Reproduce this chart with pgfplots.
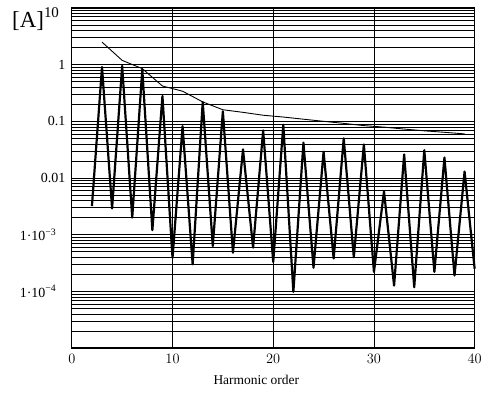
\documentclass[border=0pt]{standalone}
\usepackage{fontspec}
\setmainfont{Liberation Serif}
\usepackage{pgfplots}
\pgfplotsset{compat=1.18}
\begin{document}
\begin{tikzpicture}
\begin{axis}[
  scale only axis, width=404pt, height=341pt,
  ymode=log, ymin=1e-5, ymax=10, xmin=0, xmax=40,
  xtick={0,10,20,30,40},
  ytick={1e-5,1e-4,1e-3,0.01,0.1,1,10},
  yticklabels={,{1·10\textsuperscript{−4}\hspace*{9pt}},{1·10\textsuperscript{−3}\hspace*{9pt}},0.01,0.1,1,},
  minor ytick={2e-5,3e-5,4e-5,5e-5,6e-5,7e-5,8e-5,9e-5,
               2e-4,3e-4,4e-4,5e-4,6e-4,7e-4,8e-4,9e-4,
               2e-3,3e-3,4e-3,5e-3,6e-3,7e-3,8e-3,9e-3,
               0.02,0.03,0.04,0.05,0.06,0.07,0.08,0.09,
               0.2,0.3,0.4,0.5,0.6,0.7,0.8,0.9,
               2,3,4,5,6,7,8,9},
  xmajorgrids, ymajorgrids, yminorgrids,
  major grid style={black, line width=0.7pt},
  minor grid style={black, line width=0.6pt},
  tick style={draw=none},
  axis line style={black, line width=1.3pt},
  ticklabel style={font=\fontsize{14}{16}\selectfont},
  xticklabel style={yshift=-3pt},
  yticklabel style={xshift=-3pt},
  xlabel={Harmonic order},
  xlabel style={font=\fontsize{13.5}{15}\selectfont, at={(axis description cs:0.458,0)}, anchor=north, yshift=-24pt},
  clip=false,
]
\addplot[black, line width=2.2pt, line join=round] coordinates {
(2,0.0032) (3,0.91) (4,0.0029) (5,0.95) (6,0.0020) (7,0.82) (8,0.0012) (9,0.28)
(10,3.9e-4) (11,0.082) (12,3.0e-4) (13,0.22) (14,6.3e-4) (15,0.15) (16,4.8e-4)
(17,0.032) (18,5.9e-4) (19,0.069) (20,3.3e-4) (21,0.087) (22,9.8e-5) (23,0.042)
(24,2.6e-4) (25,0.029) (26,3.8e-4) (27,0.05) (28,4.0e-4) (29,0.039) (30,2.2e-4)
(31,0.0058) (32,1.26e-4) (33,0.026) (34,1.18e-4) (35,0.031) (36,2.2e-4) (37,0.023)
(38,1.9e-4) (39,0.013) (40,2.5e-4)
};
\addplot[black, line width=0.9pt] coordinates {
(3,2.5) (5,1.19) (7,0.85) (9,0.42) (11,0.34) (13,0.22) (15,0.16) (17,0.144)
(19,0.128) (21,0.119) (23,0.109) (25,0.1) (27,0.092) (29,0.084) (31,0.079)
(33,0.073) (35,0.068) (37,0.064) (39,0.06)
};
\end{axis}
\node[anchor=base west, inner sep=0pt] at ([xshift=-60pt,yshift=-20pt]current axis.north west)
  {\fontsize{23}{23}\selectfont[A]\raisebox{10pt}{\fontsize{15}{15}\selectfont 10}};
\path ([xshift=-72pt,yshift=-49pt]current axis.south west) rectangle ([xshift=9pt,yshift=8pt]current axis.north east);
\end{tikzpicture}
\end{document}
